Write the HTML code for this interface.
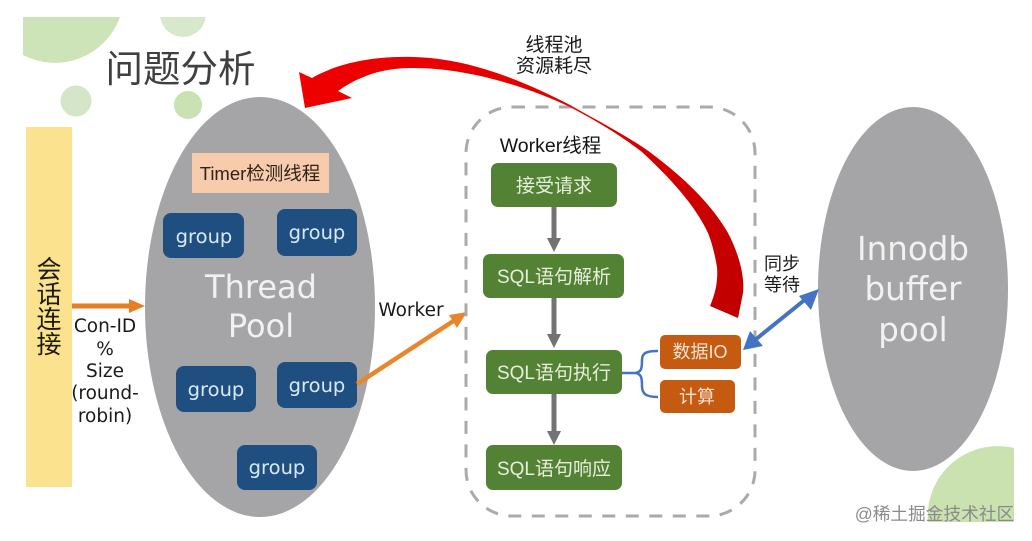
<!DOCTYPE html>
<html><head><meta charset="utf-8"><style>
html,body{margin:0;padding:0;background:#fff;width:1032px;height:541px;overflow:hidden}
svg{display:block}
text{font-family:"DejaVu Sans","Noto Sans CJK SC",sans-serif;text-anchor:middle}
text.c{font-family:"Liberation Sans","Noto Sans CJK SC",sans-serif}
text.g{fill:#d6e9f5;font-size:19.5px}
text.w{fill:#e6efdc;font-size:19px;font-family:"Liberation Sans","Noto Sans CJK SC",sans-serif}
</style></head><body>
<svg width="1032" height="541" viewBox="0 0 1032 541" xmlns="http://www.w3.org/2000/svg">
<defs>
<linearGradient id="red" x1="300" y1="80" x2="745" y2="300" gradientUnits="userSpaceOnUse">
<stop offset="0" stop-color="#f00000"/><stop offset="0.55" stop-color="#e00000"/><stop offset="1" stop-color="#c00000"/>
</linearGradient>
</defs>
<rect width="1032" height="541" fill="#fff"/>
<path d="M23 17H120A69 69 0 0 1 23 55Z" fill="#cde4b8"/>
<path d="M160.2 17A23 23 0 0 0 205.8 17Z" fill="#d8e8ca"/>
<circle cx="76" cy="101" r="15.5" fill="#d5e6c8"/>
<circle cx="188" cy="105" r="14" fill="#c9e1b3"/>
<path d="M928 522A70 70 0 0 1 1014 448V522Z" fill="#c9e2b0"/>

<text x="180.5" y="82" class="c" font-size="37.5" fill="#404040">问题分析</text>

<rect x="26" y="127" width="46" height="360" fill="#fae28f"/>
<text class="c" font-size="25" fill="#1e1a08" x="49" y="278">会</text>
<text class="c" font-size="25" fill="#1e1a08" x="49" y="303">话</text>
<text class="c" font-size="25" fill="#1e1a08" x="49" y="328">连</text>
<text class="c" font-size="25" fill="#1e1a08" x="49" y="353">接</text>

<ellipse cx="260" cy="307" rx="115" ry="210" fill="#a5a5a7"/>
<ellipse cx="913" cy="289" rx="95" ry="182" fill="#a5a4a6"/>

<path d="M72 306H131" stroke="#e67e22" stroke-width="5"/>
<path d="M129 299L145 306L129 313Z" fill="#e67e22"/>

<text x="105" y="332" font-size="18.5" fill="#1a1a1a">Con-ID</text>
<text x="105" y="355" font-size="18.5" fill="#1a1a1a">%</text>
<text x="105" y="377" font-size="18.5" fill="#1a1a1a">Size</text>
<text x="105" y="399" font-size="18.5" fill="#1a1a1a">(round-</text>
<text x="105" y="422" font-size="18.5" fill="#1a1a1a">robin)</text>

<rect x="192" y="153" width="137" height="40" fill="#f8cbad"/>
<text x="260" y="180" class="c" font-size="18.5" fill="#2c2418">Timer检测线程</text>

<g fill="#1f4e80">
<rect x="163" y="213" width="81" height="45" rx="8"/>
<rect x="277" y="209" width="80" height="47" rx="8"/>
<rect x="176" y="366" width="80" height="46" rx="8"/>
<rect x="277" y="362" width="80" height="46" rx="8"/>
<rect x="237" y="445" width="80" height="45" rx="8"/>
</g>
<text x="204" y="243" class="g">group</text>
<text x="317" y="239" class="g">group</text>
<text x="216" y="396" class="g">group</text>
<text x="317" y="392" class="g">group</text>
<text x="277" y="474" class="g">group</text>

<text x="261" y="298" font-size="32" fill="#f1f1f1">Thread</text>
<text x="261" y="337" font-size="32" fill="#f1f1f1">Pool</text>

<path d="M357 384L458 318" stroke="#e8862e" stroke-width="4.5"/>
<path d="M449 315L467 312L457 328Z" fill="#e8862e"/>
<text x="411" y="316" font-size="18.5" fill="#1a1a1a">Worker</text>

<rect x="466" y="107" width="289" height="409" rx="46" fill="none" stroke="#aaaaaa" stroke-width="3" stroke-dasharray="13 10.5"/>

<text x="550.5" y="152" font-size="19.5" fill="#141414" class="c">Worker线程</text>

<g fill="#548235">
<rect x="491" y="163" width="126" height="44" rx="7"/>
<rect x="483" y="254" width="141" height="44" rx="7"/>
<rect x="486" y="350" width="136" height="44" rx="7"/>
<rect x="486" y="445" width="136" height="45" rx="7"/>
</g>
<text x="554" y="192" class="w">接受请求</text>
<text x="554" y="283" class="w">SQL语句解析</text>
<text x="554" y="379" class="w">SQL语句执行</text>
<text x="554" y="475" class="w">SQL语句响应</text>

<g stroke="#737373" stroke-width="5" fill="none">
<path d="M554 207V240"/><path d="M554 298V336"/><path d="M554 394V434"/>
</g>
<g fill="#737373">
<path d="M547 238H561L554 252Z"/>
<path d="M547 334H561L554 348Z"/>
<path d="M547 431H561L554 445Z"/>
</g>

<path d="M622 373H634C642 373 642 367 642 360C642 353 646 351 658 351M634 373C642 373 642 379 642 386C642 394 646 397 658 397" fill="none" stroke="#4472c4" stroke-width="2.5"/>

<rect x="660" y="335" width="81" height="34" rx="5" fill="#c55a11"/>
<rect x="660" y="380" width="75" height="33" rx="5" fill="#c55a11"/>
<text x="700" y="358" class="c" font-size="18" fill="#f6e2d4">数据IO</text>
<text x="697" y="403" class="c" font-size="18" fill="#f6e2d4">计算</text>

<path d="M807 298L755 340" stroke="#4472c4" stroke-width="4"/>
<path d="M743 350L750 331L763 346Z" fill="#4472c4"/>
<path d="M819 289L799 296L811 310Z" fill="#4472c4"/>

<text x="782" y="270" class="c" font-size="18" fill="#1a1a1a">同步</text>
<text x="782" y="291" class="c" font-size="18" fill="#1a1a1a">等待</text>

<text x="554" y="51" class="c" font-size="19" fill="#1a1a1a">线程池</text>
<text x="554" y="72" class="c" font-size="19" fill="#1a1a1a">资源耗尽</text>

<path d="M299 72L312 78C340 62 375 56 413 57C470 58 525 82 570 105C600 122 625 135 647 150C685 178 712 205 728 233C738 252 745 275 743 293L738 318L710 306C716 292 718 280 717 267C715 255 712 243 708 233C695 205 670 178 642 152C620 135 595 120 570 107C530 88 470 68 413 68C390 68 365 72 338 91L352 98L305 108Z" fill="url(#red)"/>

<text x="934.5" y="520" class="c" font-size="17.7" fill="#8a8a8a">@稀土掘金技术社区</text>
<text x="913" y="260" font-size="32.5" fill="#f1f1f1">Innodb</text>
<text x="913" y="300" font-size="32.5" fill="#f1f1f1">buffer</text>
<text x="913" y="341" font-size="32.5" fill="#f1f1f1">pool</text>
</svg>
</body></html>
